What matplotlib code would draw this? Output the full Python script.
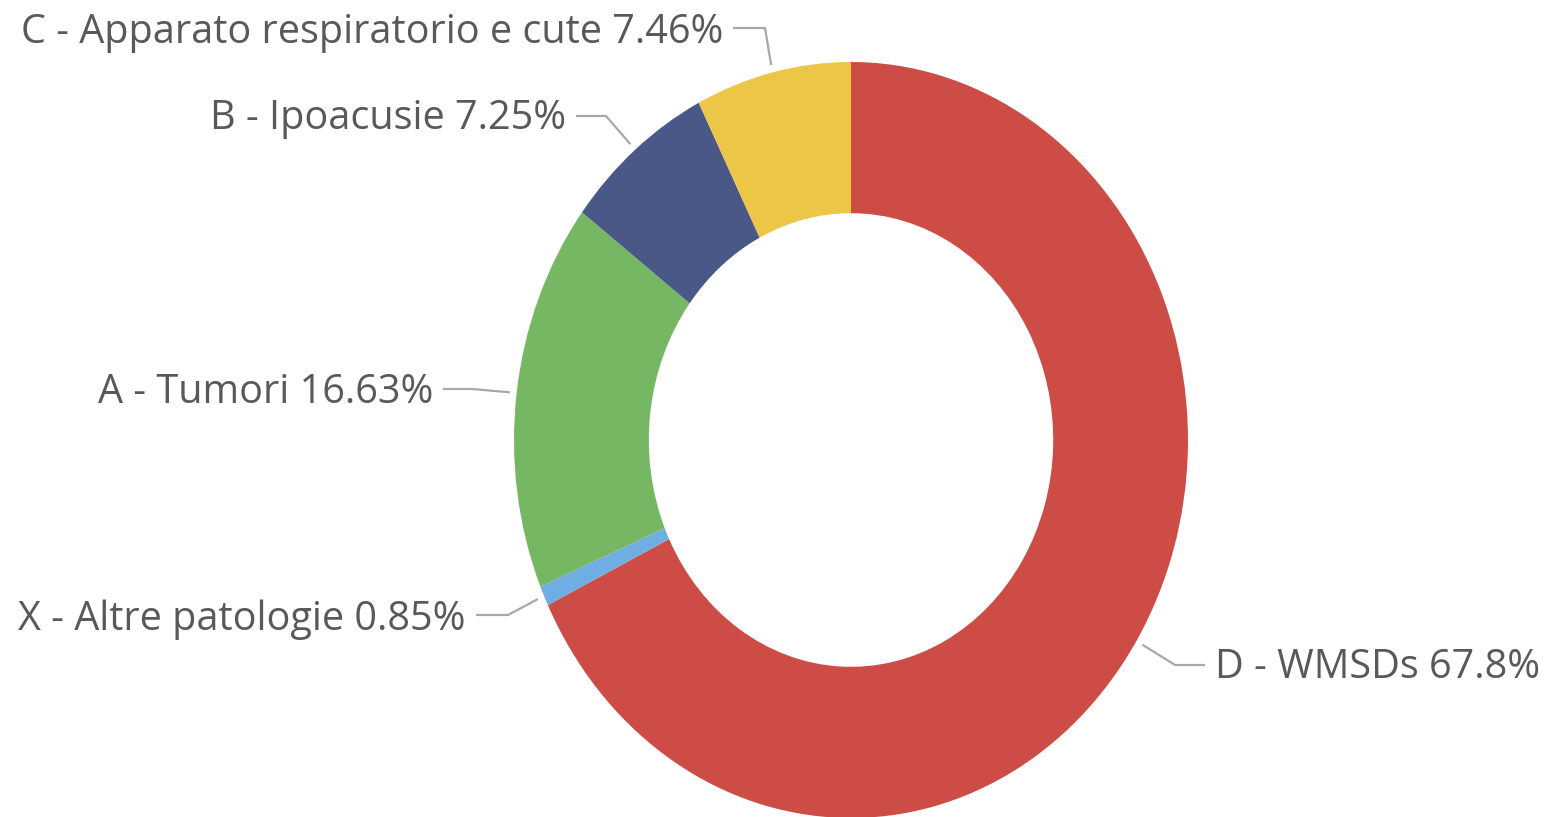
import matplotlib
matplotlib.use("Agg")
import matplotlib.pyplot as plt
import numpy as np

# Category data, clockwise from 12 o'clock
categories = ["D - WMSDs", "X - Altre patologie", "A - Tumori",
              "B - Ipoacusie", "C - Apparato respiratorio e cute"]
shares = [67.8, 0.85, 16.63, 7.25, 7.46]
share_labels = ["67.8%", "0.85%", "16.63%", "7.25%", "7.46%"]
colors = ["#CD4D46", "#6FAEE3", "#75B762", "#4A5888", "#ECC647"]

W, H = 1551, 817
fig = plt.figure(figsize=(W / 100, H / 100), dpi=100)
ax = fig.add_axes([0, 0, 1, 1])

# Ring centre and semi-axes in pixels (the ring is slightly taller than wide)
cx, cy = 851, 440
rx, ry = 337, 378

wedges, _ = ax.pie(shares, colors=colors, startangle=90, counterclock=False,
                   radius=1.0, wedgeprops=dict(width=0.40, linewidth=0))
ax.set_xlim(-cx / rx, (W - cx) / rx)
ax.set_ylim(-(H - cy) / ry, cy / ry)
ax.set_aspect("auto")
ax.axis("off")


def px(x, y):
    """pixel position (top-left origin) -> data coordinates"""
    return (x - cx) / rx, (cy - y) / ry


text_color = "#595959"
line_color = "#A8A8A8"
fs = 28.5

# leader line elbow / end and label baseline centre, in pixels
layout = {
    0: dict(elbow=(1175, 665), end=(1205, 665), ha="left", ty=668),
    1: dict(elbow=(508, 615), end=(476, 615), ha="right", ty=620),
    2: dict(elbow=(472, 389), end=(443, 389), ha="right", ty=393),
    3: dict(elbow=(606, 116), end=(576, 116), ha="right", ty=119),
    4: dict(elbow=(765, 28), end=(733, 28), ha="right", ty=33),
}

for i, w in enumerate(wedges):
    mid = np.deg2rad((w.theta1 + w.theta2) / 2)
    r_out = 1.02
    sx, sy = r_out * np.cos(mid), r_out * np.sin(mid)
    L = layout[i]
    ex, ey = px(*L["elbow"])
    tx, tyl = px(*L["end"])
    ax.plot([sx, ex, tx], [sy, ey, tyl], color=line_color, lw=1.6,
            solid_capstyle="butt", clip_on=False)
    gap = 10 if L["ha"] == "left" else -10
    lx, ly = px(L["end"][0] + gap, L["ty"])
    ax.text(lx, ly, f"{categories[i]} {share_labels[i]}", ha=L["ha"],
            va="center", fontsize=fs, color=text_color,
            family=["Open Sans", "DejaVu Sans"])

fig.savefig("out.png", dpi=100, facecolor="white")
